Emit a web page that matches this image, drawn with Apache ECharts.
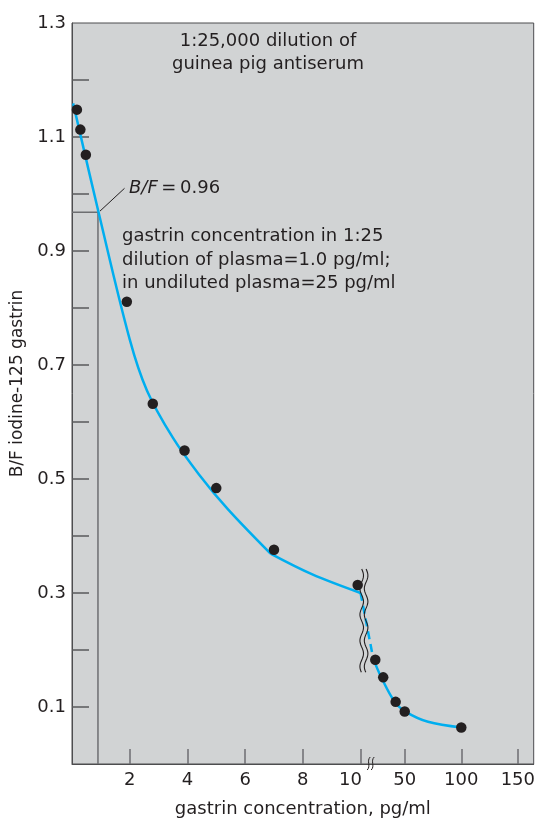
<!DOCTYPE html>
<html>
<head>
<meta charset="utf-8">
<script src="https://cdn.jsdelivr.net/npm/echarts@6/dist/echarts.min.js"></script>
<style>
  html, body { margin: 0; padding: 0; background: #fff; }
  #chart { width: 538px; height: 823px; }
</style>
</head>
<body>
<div id="chart"></div>
<script>
// measured points: gastrin (pg/ml) vs B/F
const dotsX = [0.17, 0.29, 0.48, 1.9, 2.8, 3.9, 5.0, 7.0, 9.9, 24, 31, 42, 50, 100];
const dotsY = [1.148, 1.113, 1.069, 0.811, 0.632, 0.550, 0.484, 0.376, 0.314, 0.183, 0.152, 0.109, 0.092, 0.064];

// standard curve
const curveAX = [0.04, 0.92, 2.0, 2.6, 3.5, 4.4, 5.4, 6.88];
const curveAY = [1.159, 0.968, 0.745, 0.655, 0.572, 0.508, 0.447, 0.369];
const curveBX = [6.88, 8.31, 10];
const curveBY = [0.369, 0.333, 0.30];
const bridgeX = [10, 22.3];          // dashed part across the break
const bridgeY = [0.30, 0.184];
const curveCX = [22.3, 29.3, 41.2, 51.4, 70.6, 100];
const curveCY = [0.184, 0.152, 0.109, 0.091, 0.074, 0.064];

// B/F = 0.96 read-off
const bfValue = 0.968;
const bfConc = 0.9;
const leaderX = [0.97, 1.82];
const leaderY = [0.970, 1.010];

const xTicks = [2, 4, 6, 8, 10, 50, 100, 150];
const yTicks = [0.1, 0.2, 0.3, 0.4, 0.5, 0.6, 0.7, 0.8, 0.9, 1.0, 1.1, 1.2];
const yLabels = [0.1, 0.3, 0.5, 0.7, 0.9, 1.1, 1.3];

// broken x axis: 0-10 linear, then 50/100/150 squeezed in
const BREAK_AT = 10;
const HIGH_START = 11.53;   // axis position of 50 pg/ml
const HIGH_STEP = 0.0392;   // axis units per pg/ml above the break
function toAxis(v) {
  return v <= BREAK_AT ? v : HIGH_START + (v - 50) * HIGH_STEP;
}
function pairs(xs, ys) {
  return xs.map((x, i) => [toAxis(x), ys[i]]);
}
const xTickPos = xTicks.map(toAxis);

const FONT = 'DejaVu Sans';
const INK = '#231f20';
const BLUE = '#00aeef';

const chart = echarts.init(document.getElementById('chart'));

function curve(data, dashed) {
  return {
    type: 'line',
    data: data,
    smooth: dashed ? false : 0.35,
    symbol: 'none',
    silent: true,
    z: 3,
    lineStyle: { color: BLUE, width: 2.5, type: dashed ? [8, 5] : 'solid' }
  };
}

const option = {
  animation: false,
  backgroundColor: '#fff',
  grid: {
    left: 72, right: 2, top: 23, bottom: 56,
    show: true, backgroundColor: '#d1d3d4', borderColor: '#4d4d4f', borderWidth: 1
  },
  xAxis: {
    type: 'value',
    min: 0,
    max: 16,
    name: 'gastrin concentration, pg/ml',
    nameLocation: 'middle',
    nameGap: 36,
    nameTextStyle: { fontFamily: FONT, fontSize: 18, color: INK },
    axisLine: { show: true, lineStyle: { color: '#4d4d4f', width: 1 } },
    axisTick: {
      show: true, inside: true, length: 15, customValues: xTickPos,
      lineStyle: { color: '#6d6e71', width: 1.5 }
    },
    axisLabel: {
      customValues: xTickPos,
      margin: 7,
      fontFamily: FONT, fontSize: 18, color: INK,
      formatter: function (v) {
        const i = xTickPos.findIndex(p => Math.abs(p - v) < 1e-6);
        const t = i >= 0 ? String(xTicks[i]) : '';
        return t === '10' ? '{s|10}' : t;
      },
      rich: { s: { fontFamily: FONT, fontSize: 18, color: INK, padding: [0, 20, 0, 0] } }
    },
    splitLine: { show: false }
  },
  yAxis: {
    type: 'value',
    min: 0,
    max: 1.3,
    name: 'B/F iodine-125 gastrin',
    nameLocation: 'middle',
    nameGap: 45,
    nameTextStyle: { fontFamily: FONT, fontSize: 17, color: INK, padding: [0, 0, 0, 20] },
    axisLine: { show: true, lineStyle: { color: '#4d4d4f', width: 1 } },
    axisTick: {
      show: true, inside: true, length: 17, customValues: yTicks,
      lineStyle: { color: '#58595b', width: 1.5 }
    },
    axisLabel: {
      customValues: yLabels,
      margin: 6,
      fontFamily: FONT, fontSize: 18, color: INK,
      formatter: v => v.toFixed(1)
    },
    splitLine: { show: false }
  },
  series: [
    {
      type: 'line',
      data: [[0, bfValue], [toAxis(bfConc), bfValue], [toAxis(bfConc), 0]],
      symbol: 'none', silent: true, z: 2,
      lineStyle: { color: '#6d6e71', width: 1.5 }
    },
    {
      type: 'line',
      data: pairs(leaderX, leaderY),
      symbol: 'none', silent: true, z: 2,
      lineStyle: { color: INK, width: 1 }
    },
    curve(pairs(curveAX, curveAY)),
    curve(pairs(curveBX, curveBY)),
    curve(pairs(bridgeX, bridgeY), true),
    curve(pairs(curveCX, curveCY)),
    {
      type: 'scatter',
      data: pairs(dotsX, dotsY),
      symbolSize: 10.5,
      silent: true,
      z: 5,
      itemStyle: { color: INK, opacity: 1 }
    },
    {
      // break symbols: wavy double line on the curve and the small mark on the axis
      type: 'custom',
      silent: true,
      z: 4,
      data: [[10.04, 0.342, 0.161]],
      renderItem: function (params, api) {
        const top = api.coord([api.value(0), api.value(1)]);
        const bot = api.coord([api.value(0), api.value(2)]);
        const children = [];
        [0, 4.4].forEach(function (dx) {
          const pts = [];
          const n = 60;
          for (let k = 0; k <= n; k++) {
            const y = top[1] + (bot[1] - top[1]) * k / n;
            const x = top[0] + dx + 1.8 * Math.sin((y - top[1]) / 26 * 2 * Math.PI);
            pts.push([x, y]);
          }
          children.push({
            type: 'polyline',
            shape: { points: pts },
            style: { stroke: INK, lineWidth: 1.1, fill: null }
          });
        });
        const base = api.coord([api.value(0), 0]);
        [5.5, 9.5].forEach(function (dx) {
          const x0 = base[0] + dx, y0 = base[1] + 6;
          children.push({
            type: 'bezierCurve',
            shape: {
              x1: x0, y1: y0, x2: x0 + 3, y2: y0 - 13,
              cpx1: x0 + 4, cpy1: y0 - 4, cpx2: x0 - 1, cpy2: y0 - 9
            },
            style: { stroke: INK, lineWidth: 1, fill: null }
          });
        });
        return { type: 'group', children: children };
      }
    }
  ],
  graphic: [
    {
      type: 'text',
      style: {
        text: '1:25,000 dilution of\nguinea pig antiserum',
        x: 268, y: 30,
        textAlign: 'center', textVerticalAlign: 'top',
        font: '18px "DejaVu Sans"', lineHeight: 23, fill: INK
      }
    },
    {
      type: 'text',
      style: {
        text: 'gastrin concentration in 1:25\ndilution of plasma=1.0 pg/ml;\nin undiluted plasma=25 pg/ml',
        x: 122, y: 225,
        textAlign: 'left', textVerticalAlign: 'top',
        font: '18px "DejaVu Sans"', lineHeight: 23.3, fill: INK
      }
    },
    {
      type: 'text',
      style: {
        text: '{i|B/F}{n|\u2009=\u20090.96}',
        x: 129, y: 188,
        textAlign: 'left', textVerticalAlign: 'middle',
        fill: INK,
        rich: {
          i: { fontFamily: FONT, fontSize: 18, fontStyle: 'italic', fill: INK },
          n: { fontFamily: FONT, fontSize: 18, fill: INK }
        }
      }
    }
  ]
};

chart.setOption(option);
</script>
</body>
</html>
